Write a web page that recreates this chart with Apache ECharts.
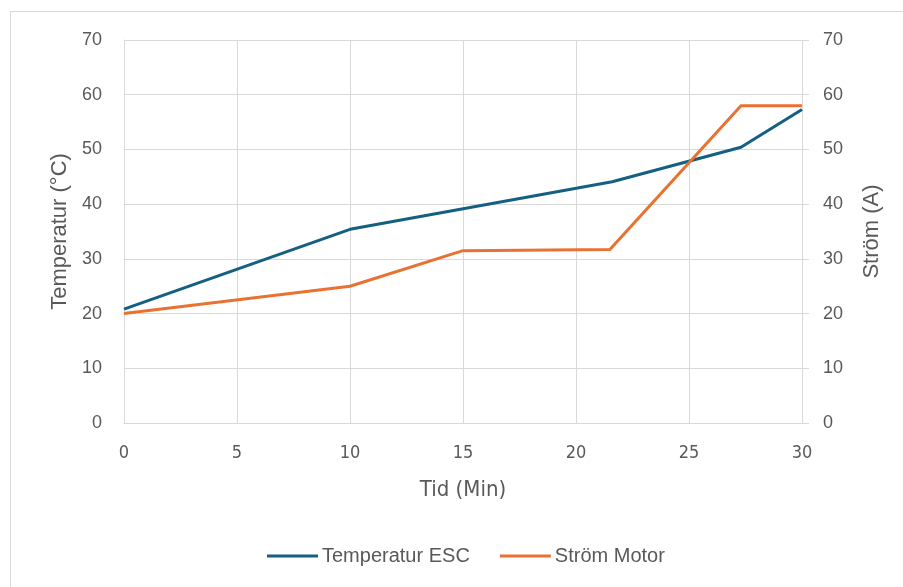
<!DOCTYPE html>
<html>
<head>
<meta charset="utf-8">
<script src="https://cdn.jsdelivr.net/npm/echarts@6/dist/echarts.min.js"></script>
<style>
  html, body { margin: 0; padding: 0; background: #fff; }
  #frame {
    position: absolute; left: 10px; top: 11px; width: 1000px; height: 700px;
    border-left: 1px solid #d9d9d9; border-top: 1px solid #d9d9d9;
  }
  #main { position: absolute; left: 0; top: 0; width: 903px; height: 587px; }
</style>
</head>
<body>
<div id="frame"></div>
<div id="main"></div>
<script>
// tid (min)
var tempTid = [0, 10, 21.6, 27.3, 30];
var tempESC = [20.8, 35.4, 44.1, 50.4, 57.3];
var stromTid = [0, 10, 15, 21.5, 27.3, 30];
var stromMotor = [20.0, 25.0, 31.5, 31.7, 58.0, 58.0];

function pairs(xs, ys) {
  return xs.map(function (x, i) { return [x, ys[i]]; });
}

var font = "'Liberation Sans', Arial, sans-serif";
var narrow = "'Liberation Sans Narrow', 'DejaVu Sans Condensed', 'Liberation Sans', sans-serif";
var grey = "#595959";

var myChart = echarts.init(document.getElementById("main"));
var option = {
  animation: false,
  textStyle: { fontFamily: font },
  grid: { left: 124, right: 101, top: 40, bottom: 164 },
  legend: {
    top: 541,
    left: 262,
    itemWidth: 51,
    itemHeight: 3,
    itemGap: 30,
    icon: "rect",
    textStyle: { fontSize: 20, color: grey, fontFamily: font, padding: [0, 0, 0, -1] },
    data: ["Temperatur ESC", "Ström Motor"],
  },
  xAxis: {
    type: "value",
    min: 0,
    max: 30,
    interval: 5,
    name: "Tid (Min)",
    nameLocation: "middle",
    nameGap: 56,
    nameTextStyle: { fontSize: 22, color: grey, fontFamily: narrow },
    axisLine: { show: true, lineStyle: { color: "#d9d9d9", width: 1 } },
    axisTick: { show: false },
    axisLabel: { fontSize: 18, color: grey, margin: 21, fontFamily: narrow },
    splitLine: { show: true, lineStyle: { color: "#d9d9d9", width: 1 } },
  },
  yAxis: [
    {
      type: "value",
      min: 0,
      max: 70,
      interval: 10,
      name: "Temperatur (°C)",
      nameLocation: "middle",
      nameGap: 53,
      nameTextStyle: { fontSize: 22, color: grey },
      axisLine: { show: true, lineStyle: { color: "#d9d9d9" } },
      axisTick: { show: false },
      axisLabel: { fontSize: 18, color: grey, margin: 22 },
      splitLine: { show: true, lineStyle: { color: "#d9d9d9", width: 1 } },
    },
    {
      type: "value",
      min: 0,
      max: 70,
      interval: 10,
      position: "right",
      name: "Ström (A)",
      nameLocation: "middle",
      nameGap: 59,
      nameTextStyle: { fontSize: 22, color: grey },
      axisLine: { show: true, lineStyle: { color: "#d9d9d9" } },
      axisTick: { show: true, length: 7, lineStyle: { color: "#d9d9d9" } },
      axisLabel: { fontSize: 18, color: grey, margin: 21 },
      splitLine: { show: false },
    },
  ],
  series: [
    {
      name: "Temperatur ESC",
      type: "line",
      yAxisIndex: 0,
      data: pairs(tempTid, tempESC),
      showSymbol: false,
      lineStyle: { width: 3, color: "#156082" },
      itemStyle: { color: "#156082" },
    },
    {
      name: "Ström Motor",
      type: "line",
      yAxisIndex: 1,
      data: pairs(stromTid, stromMotor),
      showSymbol: false,
      lineStyle: { width: 3, color: "#E97132" },
      itemStyle: { color: "#E97132" },
    },
  ],
};
option && myChart.setOption(option);
</script>
</body>
</html>
